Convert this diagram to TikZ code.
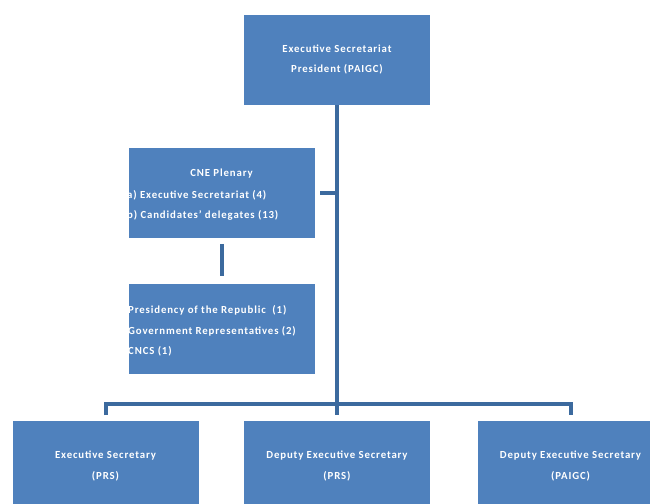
\documentclass[tikz,border=0pt]{standalone}
\usepackage{fontspec}
\setmainfont{Carlito}[LetterSpace=8]
\usetikzlibrary{calc}
\definecolor{boxblue}{HTML}{4F81BD}
\definecolor{lineblue}{HTML}{3C6A9E}
\tikzset{
  box/.style={fill=boxblue, draw=white, line width=0.6pt, minimum width=187pt, minimum height=91pt, inner sep=0pt, text=white, font=\fontsize{10.8}{20.5}\selectfont\bfseries},
  boxtext/.style={font=\fontsize{10.8}{20.5}\selectfont\bfseries, text=white, inner sep=0pt},
  conn/.style={draw=lineblue, line width=4pt, line join=miter},
}
\begin{document}
\begin{tikzpicture}[x=1pt,y=-1pt]
\clip (0,0) rectangle (650,503);
\fill[white] (0,0) rectangle (650,503);
\node[box, align=center] (top) at (337,59.5) {Executive Secretariat\\President (PAIGC)};
\node[box] (cne) at (221.5,193) {};
\node[boxtext, anchor=north] (cnet) at (221.5,169) {CNE Plenary};
\node[boxtext, anchor=north west, align=left] (cnel) at (127,190) {a) Executive Secretariat (4)\\b) Candidates' delegates (13)};
\node[box] (pres) at (221.5,329) {};
\node[boxtext, anchor=north west, align=left] (prest) at (128,305.5) {Presidency of the Republic\ \ (1)\\Government Representatives\ (2)\\CNCS (1)};
\node[box, align=center] (l) at (105.5,466) {Executive Secretary\\(PRS)};
\node[box, align=center] (m) at (337,466) {Deputy Executive Secretary\\(PRS)};
\node[box, align=center] (r) at (570.5,466) {Deputy Executive Secretary\\(PAIGC)};
\coordinate (bus) at (337,404);
\coordinate (j1) at (337,193);
\draw[conn, shorten >=5pt] (top.south) -- (m.north);
\draw[conn, shorten <=5pt, shorten >=5pt] (l.north) |- (bus) -| (r.north);
\draw[conn, shorten <=5pt] (cne.east) -- (j1);
\draw[conn, shorten <=5pt, shorten >=7pt] (cne.south) -- (pres.north);
\end{tikzpicture}
\end{document}
